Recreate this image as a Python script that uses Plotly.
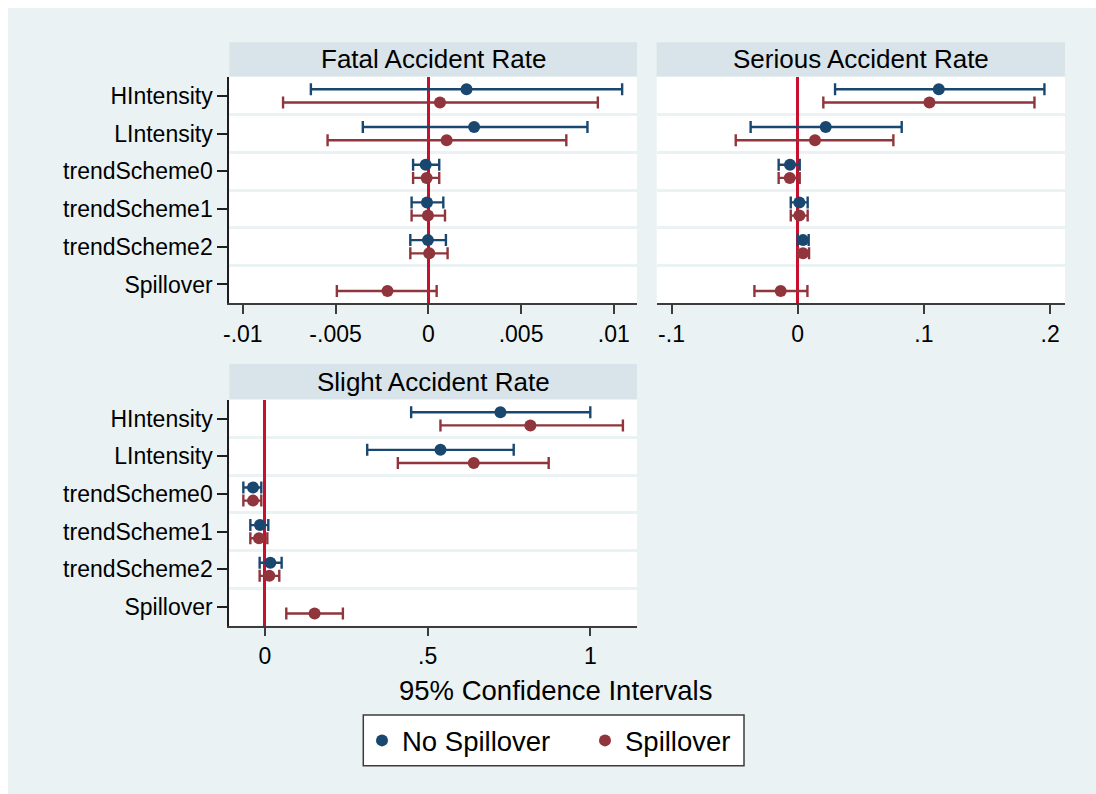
import plotly.graph_objects as go

# ---------------- data ----------------
categories = ["HIntensity", "LIntensity", "trendScheme0", "trendScheme1", "trendScheme2", "Spillover"]
panel_titles = ["Fatal Accident Rate", "Serious Accident Rate", "Slight Accident Rate"]
series_names = ["No Spillover", "Spillover"]

# Fatal Accident Rate
fatal_nospill_coef = [0.00206, 0.00247, -0.00014, -0.00007, -0.00002]
fatal_nospill_lo = [-0.00633, -0.00353, -0.00082, -0.00090, -0.00097]
fatal_nospill_hi = [0.01045, 0.00858, 0.00059, 0.00081, 0.00095]
fatal_spill_coef = [0.00063, 0.00099, -0.00009, -0.00002, 0.00005, -0.00220]
fatal_spill_lo = [-0.00783, -0.00543, -0.00082, -0.00090, -0.00097, -0.00493]
fatal_spill_hi = [0.00914, 0.00744, 0.00059, 0.00090, 0.00104, 0.00045]

# Serious Accident Rate
serious_nospill_coef = [0.1118, 0.0222, -0.0061, 0.0013, 0.0042]
serious_nospill_lo = [0.0296, -0.0373, -0.0151, -0.0055, 0.0000]
serious_nospill_hi = [0.1955, 0.0824, 0.0016, 0.0079, 0.0087]
serious_spill_coef = [0.1044, 0.0137, -0.0063, 0.0013, 0.0042, -0.0135]
serious_spill_lo = [0.0203, -0.0491, -0.0151, -0.0055, 0.0003, -0.0343]
serious_spill_hi = [0.1876, 0.0758, 0.0016, 0.0079, 0.0090, 0.0077]

# Slight Accident Rate
slight_nospill_coef = [0.7237, 0.5394, -0.0368, -0.0154, 0.0164]
slight_nospill_lo = [0.4493, 0.3142, -0.0665, -0.0450, -0.0164]
slight_nospill_hi = [1.0000, 0.7646, -0.0113, 0.0102, 0.0512]
slight_spill_coef = [0.8158, 0.6418, -0.0368, -0.0184, 0.0133, 0.1525]
slight_spill_lo = [0.5394, 0.4084, -0.0665, -0.0450, -0.0164, 0.0655]
slight_spill_hi = [1.1003, 0.8721, -0.0113, 0.0072, 0.0440, 0.2395]

fatal_tickvals = [-0.01, -0.005, 0, 0.005, 0.01]
fatal_ticktext = ["-.01", "-.005", "0", ".005", ".01"]
serious_tickvals = [-0.1, 0, 0.1, 0.2]
serious_ticktext = ["-.1", "0", ".1", ".2"]
slight_tickvals = [0, 0.5, 1]
slight_ticktext = ["0", ".5", "1"]

axis_title = "95% Confidence Intervals"

# ---------------- style ----------------
W, H = 1096, 794
BG = "#EAF2F3"
BAND = "#D8E4E9"
BLUE = "#1A476F"
RED = "#90353B"
ZERO = "#C8102E"
FONT = "Liberation Sans, Arial, sans-serif"
OFF = 0.175

def px_x(v):
    return v / W

def px_y(v):
    return 1 - v / H

panels = [
    dict(ax="", title=panel_titles[0], x0=229.3, x1=637, y0=77, y1=303.3, band=(42.3, 76.3),
         rng=[-0.010728, 0.011251], tv=fatal_tickvals, tt=fatal_ticktext, ylab=True,
         nos=(fatal_nospill_coef, fatal_nospill_lo, fatal_nospill_hi),
         sp=(fatal_spill_coef, fatal_spill_lo, fatal_spill_hi)),
    dict(ax="2", title=panel_titles[1], x0=656.7, x1=1065, y0=77, y1=303.3, band=(42.3, 76.3),
         rng=[-0.11173, 0.2118], tv=serious_tickvals, tt=serious_ticktext, ylab=False,
         nos=(serious_nospill_coef, serious_nospill_lo, serious_nospill_hi),
         sp=(serious_spill_coef, serious_spill_lo, serious_spill_hi)),
    dict(ax="3", title=panel_titles[2], x0=229.3, x1=637, y0=400, y1=625.7, band=(364, 399),
         rng=[-0.1097, 1.1436], tv=slight_tickvals, tt=slight_ticktext, ylab=True,
         nos=(slight_nospill_coef, slight_nospill_lo, slight_nospill_hi),
         sp=(slight_spill_coef, slight_spill_lo, slight_spill_hi)),
]

fig = go.Figure()
shapes = []
annotations = []
layout = {}

for k, p in enumerate(panels):
    xa = "x" + p["ax"]
    ya = "y" + p["ax"]
    for s, (color, data, sign) in enumerate([(BLUE, p["nos"], -1), (RED, p["sp"], 1)]):
        coef, lo, hi = data
        ys = [i + sign * OFF for i in range(len(coef))]
        fig.add_trace(go.Scatter(
            x=coef, y=ys, mode="markers", xaxis=xa, yaxis=ya,
            name=series_names[s], legendgroup=series_names[s], showlegend=(k == 0),
            marker=dict(color=color, size=12, symbol="circle"),
            error_x=dict(type="data", symmetric=False,
                         array=[h - c for h, c in zip(hi, coef)],
                         arrayminus=[c - l for c, l in zip(coef, lo)],
                         color=color, thickness=2.4, width=6),
            hoverinfo="skip",
        ))

    layout["xaxis" + p["ax"]] = dict(
        domain=[px_x(p["x0"]), px_x(p["x1"])], range=p["rng"], anchor=ya,
        automargin=False,
        tickmode="array", tickvals=p["tv"], ticktext=p["tt"],
        showline=True, linecolor="#3C3C3C", linewidth=1.5,
        ticks="outside", ticklen=9, tickwidth=1.5, tickcolor="#3C3C3C",
        tickfont=dict(family=FONT, size=23, color="#000000"),
        ticklabelstandoff=0,
        showgrid=False, zeroline=True, zerolinecolor=ZERO, zerolinewidth=2.5,
        fixedrange=True,
    )
    layout["yaxis" + p["ax"]] = dict(
        domain=[px_y(p["y1"]), px_y(p["y0"])], range=[5.5, -0.5], anchor=xa,
        automargin=False,
        tickmode="array", tickvals=list(range(len(categories))), ticktext=categories,
        showticklabels=p["ylab"],
        showline=p["ylab"], linecolor="#1E1E1E", linewidth=2,
        ticks="outside" if p["ylab"] else "", ticklen=10, tickwidth=1.5, tickcolor="#1E1E1E",
        tickfont=dict(family=FONT, size=23, color="#000000"),
        showgrid=False, zeroline=False,
        minor=dict(tickmode="array", tickvals=[0.5, 1.5, 2.5, 3.5, 4.5],
                   showgrid=True, gridcolor=BG, gridwidth=3, ticks=""),
        fixedrange=True,
    )
    # title band
    shapes.append(dict(type="rect", xref="paper", yref="paper",
                       x0=px_x(p["x0"]), x1=px_x(p["x1"]),
                       y0=px_y(p["band"][1]), y1=px_y(p["band"][0]),
                       fillcolor=BAND, line=dict(width=0), layer="below"))
    annotations.append(dict(text=p["title"], xref="paper", yref="paper",
                            x=px_x((p["x0"] + p["x1"]) / 2), y=px_y((p["band"][0] + p["band"][1]) / 2),
                            xanchor="center", yanchor="middle", showarrow=False,
                            font=dict(family=FONT, size=26, color="#000000")))

# white outer frame (top / left strips)
shapes.append(dict(type="rect", xref="paper", yref="paper", x0=0, x1=1, y0=px_y(8), y1=1,
                   fillcolor="#FFFFFF", line=dict(width=0), layer="below"))
shapes.append(dict(type="rect", xref="paper", yref="paper", x0=0, x1=px_x(8), y0=0, y1=1,
                   fillcolor="#FFFFFF", line=dict(width=0), layer="below"))

# legend frame
shapes.append(dict(type="rect", xref="paper", yref="paper",
                   x0=px_x(363.3), x1=px_x(744), y0=px_y(765.7), y1=px_y(715),
                   fillcolor="#FFFFFF", line=dict(color="#3C3C3C", width=1.5), layer="below"))

annotations.append(dict(text=axis_title, xref="paper", yref="paper",
                        x=px_x(555), y=px_y(690), xanchor="center", yanchor="middle",
                        showarrow=False, font=dict(family=FONT, size=27.5, color="#000000")))

fig.update_layout(
    width=W, height=H, margin=dict(l=0, r=0, t=0, b=0, autoexpand=False),
    paper_bgcolor=BG, plot_bgcolor="#FFFFFF",
    shapes=shapes, annotations=annotations,
    showlegend=True,
    legend=dict(orientation="h", x=px_x(362), xanchor="left", y=px_y(716), yanchor="top",
                bgcolor="rgba(0,0,0,0)", borderwidth=0,
                font=dict(family=FONT, size=27.5, color="#000000"),
                itemsizing="constant", entrywidth=178, entrywidthmode="pixels"),
    **layout,
)

fig.write_html("out.html")
